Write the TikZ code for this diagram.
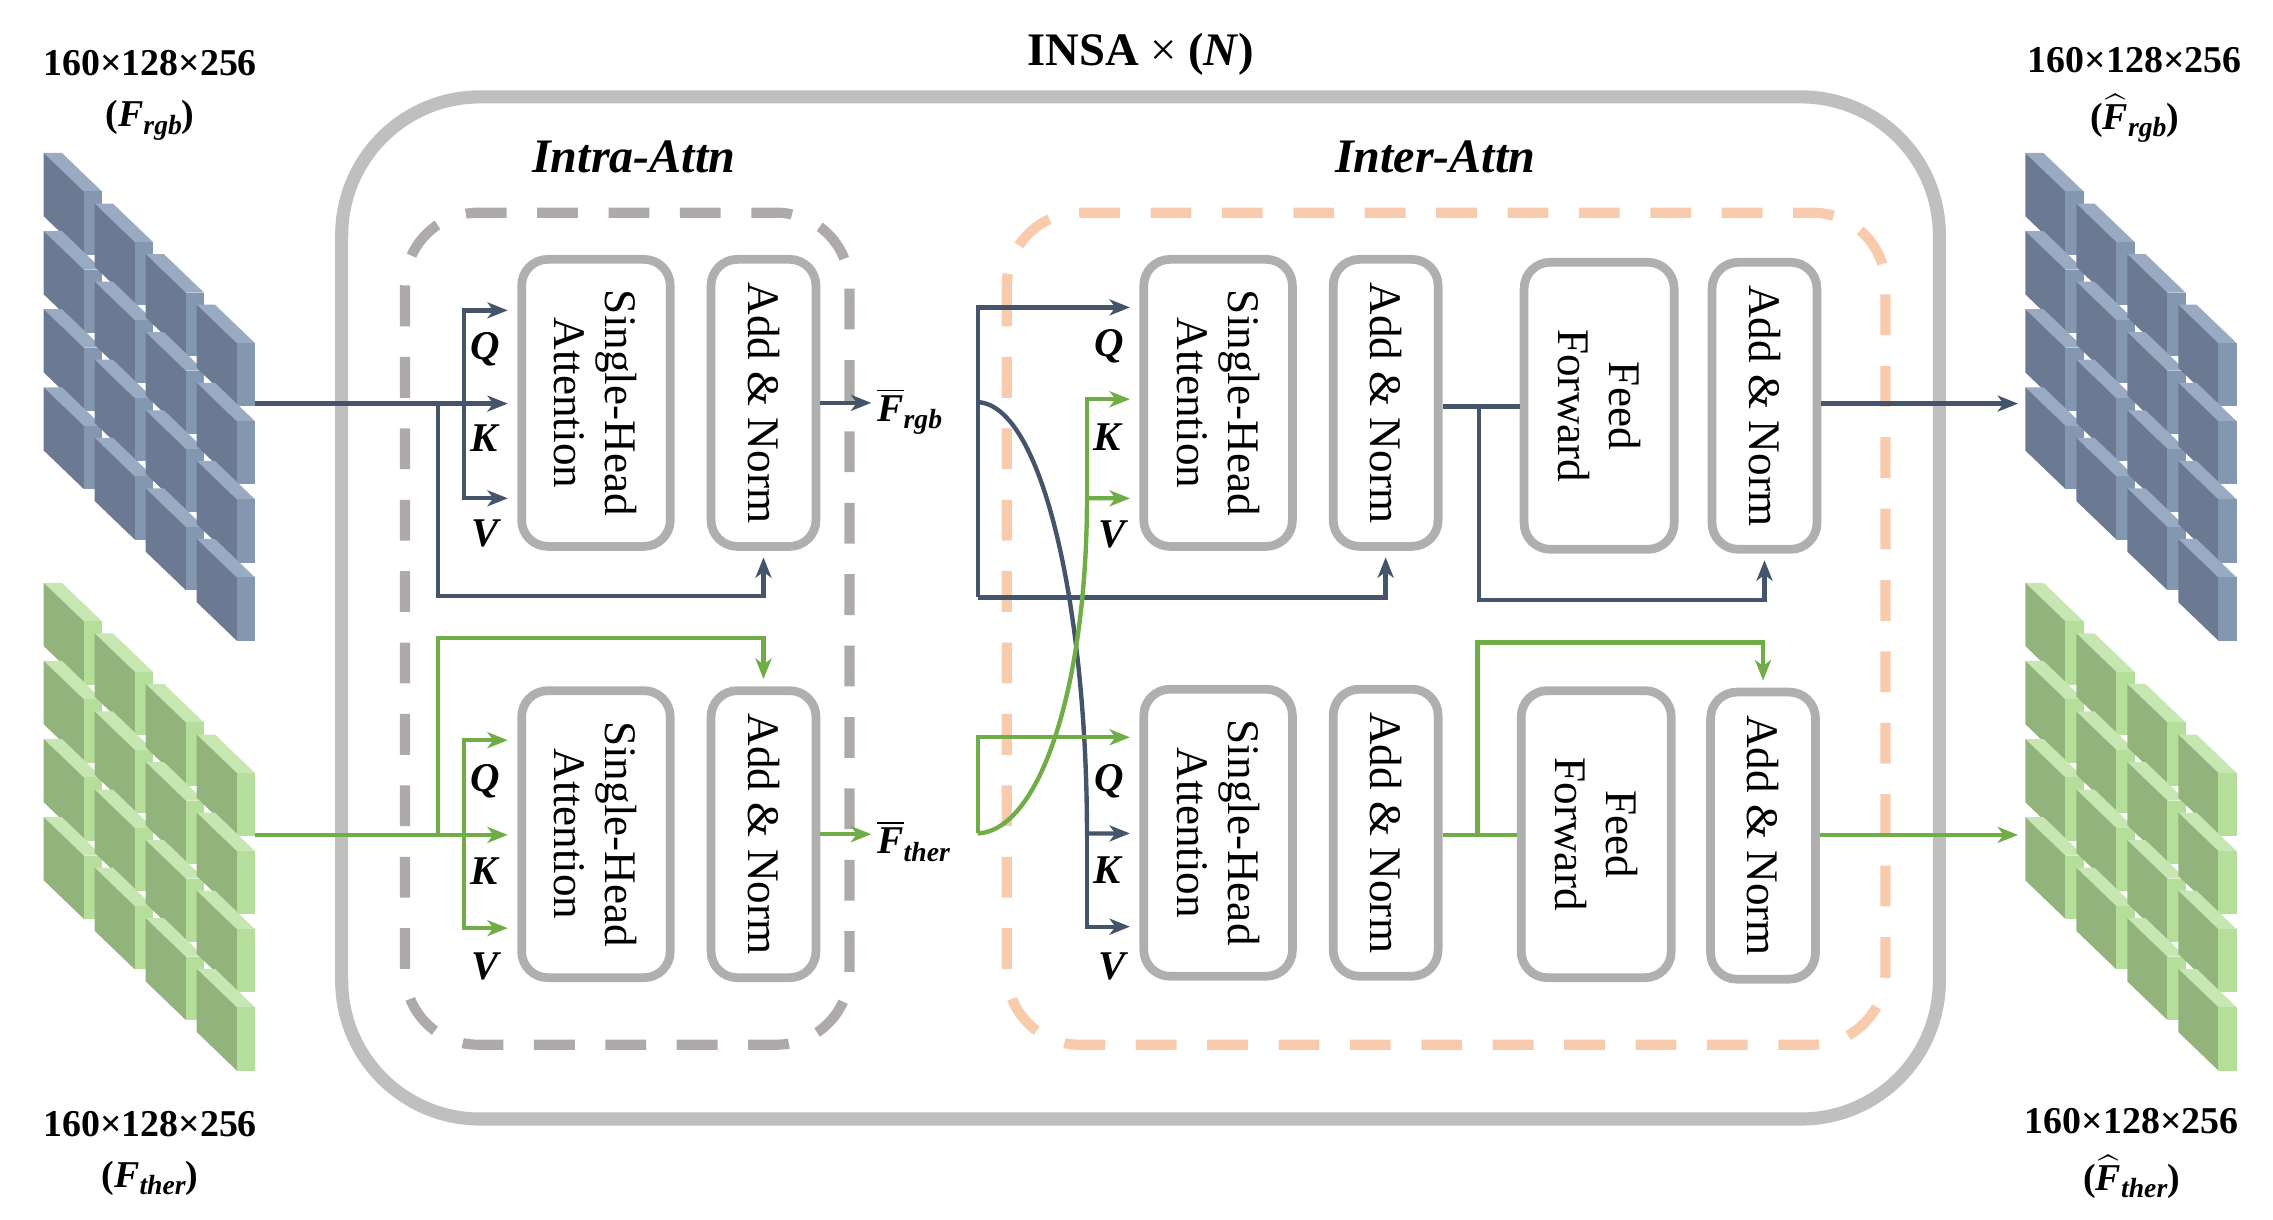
\documentclass[tikz,border=0pt]{standalone}
\usepackage{amsmath}
\usepackage{fontspec}
\setmainfont{Liberation Serif}
\usepackage{bm}
\usetikzlibrary{arrows.meta}
\definecolor{cblue}{HTML}{44546A}
\definecolor{cgreen}{HTML}{70AD47}
\definecolor{boxgray}{HTML}{AFAFAF}
\definecolor{outergray}{HTML}{BFBFBF}
\definecolor{intragray}{HTML}{AEAAAA}
\definecolor{interpeach}{HTML}{F8CBAD}
\definecolor{rgbfront}{HTML}{6B7A92}
\definecolor{rgbside}{HTML}{8497B0}
\definecolor{rgbtop}{HTML}{99AAC3}
\definecolor{thfront}{HTML}{93B37C}
\definecolor{thside}{HTML}{B4DE99}
\definecolor{thtop}{HTML}{C6E7B1}
\newcommand{\mycube}[5]{%
 \fill[#5] (#1,#2) -- ++(12.5,0) -- ++(27.5,26.4) -- ++(-12.5,0) -- cycle;
 \fill[#3] (#1,#2) -- ++(27.5,26.4) -- ++(0,43.4) -- ++(-27.5,-26.4) -- cycle;
 \fill[#4] (#1,#2) ++(27.5,26.4) -- ++(12.5,0) -- ++(0,43.4) -- ++(-12.5,0) -- cycle;
}
\newcommand{\mygrid}[5]{%
 \foreach \cc in {0,...,3}{\foreach \rr in {0,...,3}{%
   \pgfmathsetmacro{\cx}{#1+35*\cc}\pgfmathsetmacro{\cy}{#2+34.7*\cc+53.6*\rr}%
   \mycube{\cx}{\cy}{#3}{#4}{#5}}}}
\newcommand{\bF}{\textbf{\textit{F}}}
\newcommand{\bsub}[1]{\raisebox{-5pt}{\fontsize{19}{20}\selectfont\textbf{\textit{#1}}}}
\begin{document}
\begin{tikzpicture}[x=1pt,y=-1pt,
  blockbox/.style={draw=boxgray, line width=6pt, rounded corners=18pt, fill=white, minimum height=197pt, inner sep=0pt},
  blocktext/.style={rotate=-90, align=center, font=\fontsize{31}{35}\selectfont, inner sep=0pt},
  conn/.style={line width=3pt},
  myarrow/.style={-{Stealth[length=14pt,width=11pt,inset=4pt]}},
  qkv/.style={font=\fontsize{28}{30}\selectfont\bfseries\itshape, inner sep=0pt},
  dimtext/.style={font=\fontsize{26}{30}\selectfont\bfseries, inner sep=0pt, anchor=base},
  fbar/.style={font=\fontsize{27}{30}\selectfont, inner sep=0pt, anchor=base west},
]
\useasboundingbox (0,0) rectangle (1560,837);

% outer and dashed frames
\draw[outergray, line width=9pt, rounded corners=95pt] (234.5,66.5) rectangle (1331,768);
\draw[intragray, line width=7pt, dash pattern=on 28pt off 21pt, rounded corners=50pt] (278,146) rectangle (583,717);
\draw[interpeach, line width=7pt, dash pattern=on 28pt off 21pt, rounded corners=50pt] (691,146) rectangle (1294,717);

% titles
\node[font=\fontsize{32}{36}\selectfont\bfseries] (title) at (783,37) {INSA {\mdseries ×} (\textit{N})};
\node[font=\fontsize{33}{38}\selectfont\bfseries\itshape] (intra) at (435,108) {Intra-Attn};
\node[font=\fontsize{33}{38}\selectfont\bfseries\itshape] (inter) at (985,108) {Inter-Attn};

% feature cubes
\mygrid{30}{105}{rgbfront}{rgbside}{rgbtop}
\mygrid{30}{400}{thfront}{thside}{thtop}
\mygrid{1390}{105}{rgbfront}{rgbside}{rgbtop}
\mygrid{1390}{400}{thfront}{thside}{thtop}

\node[dimtext] (d1) at (103,52) {160×128×256};
\node[dimtext] (d2) at (103,87) {(\bF\bsub{rgb})};
\node[dimtext] (d3) at (103,780) {160×128×256};
\node[dimtext] (d4) at (103,815) {(\bF\bsub{ther})};
\node[dimtext] (d5) at (1465,50) {160×128×256};
\node[dimtext] (d6) at (1465,89) {($\widehat{\hbox{\bF}}$\bsub{rgb})};
\node[dimtext] (d7) at (1463,778) {160×128×256};
\node[dimtext] (d8) at (1463,817) {($\widehat{\hbox{\bF}}$\bsub{ther})};

% blocks
\node[blockbox, minimum width=102pt] (sa1) at (409,276.5) {};
\node[blocktext] at (sa1) {Single-Head\\Attention};
\node[blockbox, minimum width=72pt] (an1) at (524,276.5) {};
\node[blocktext] at (an1) {Add \& Norm};
\node[blockbox, minimum width=102pt] (sa2) at (409,572.5) {};
\node[blocktext] at (sa2) {Single-Head\\Attention};
\node[blockbox, minimum width=72pt] (an2) at (524,572.5) {};
\node[blocktext] at (an2) {Add \& Norm};

\node[blockbox, minimum width=102pt] (sa3) at (836,276.5) {};
\node[blocktext] at (sa3) {Single-Head\\Attention};
\node[blockbox, minimum width=72pt] (an3) at (951,276.5) {};
\node[blocktext] at (an3) {Add \& Norm};
\node[blockbox, minimum width=103pt] (ff3) at (1097.5,278.5) {};
\node[blocktext] at (ff3) {Feed\\Forward};
\node[blockbox, minimum width=72pt] (bn3) at (1211,278.5) {};
\node[blocktext] at (bn3) {Add \& Norm};

\node[blockbox, minimum width=102pt] (sa4) at (836,571.5) {};
\node[blocktext] at (sa4) {Single-Head\\Attention};
\node[blockbox, minimum width=72pt] (an4) at (951,571.5) {};
\node[blocktext] at (an4) {Add \& Norm};
\node[blockbox, minimum width=103pt] (ff4) at (1095.5,572.5) {};
\node[blocktext] at (ff4) {Feed\\Forward};
\node[blockbox, minimum width=72pt] (bn4) at (1210,573.5) {};
\node[blocktext] at (bn4) {Add \& Norm};

% Q K V labels
\node[qkv] (lq1) at (333,240) {Q};
\node[qkv] (lk1) at (332,301) {K};
\node[qkv] (lv1) at (333,366) {V};
\node[qkv] (lq2) at (333,536) {Q};
\node[qkv] (lk2) at (332,598) {K};
\node[qkv] (lv2) at (333,663) {V};
\node[qkv] (lq3) at (761,238) {Q};
\node[qkv] (lk3) at (760,300) {K};
\node[qkv] (lv3) at (763,367) {V};
\node[qkv] (lq4) at (761,536) {Q};
\node[qkv] (lk4) at (760,597) {K};
\node[qkv] (lv4) at (763,663) {V};

% F bar labels
\node[fbar] (frgb) at (602,289) {$\overline{\hbox{\bF}}$\bsub{rgb}};
\node[fbar] (fther) at (602,586) {$\overline{\hbox{\bF}}$\bsub{ther}};

% coordinates
\coordinate (rgbout) at (175,277);
\coordinate (thout) at (175,573);
\coordinate (f1) at (318.5,277); \coordinate (q1) at (318.5,213);
\coordinate (v1) at (318.5,342); \coordinate (r1) at (300.5,277);
\coordinate (f2) at (318.5,573); \coordinate (q2) at (318.5,508);
\coordinate (v2) at (318.5,637); \coordinate (r2) at (300.5,573);
\coordinate (bt) at (671,211); \coordinate (bb) at (671,410); \coordinate (bc) at (671,276);
\coordinate (bk) at (746,572); \coordinate (bv) at (746,636);
\coordinate (gq) at (671,506); \coordinate (gb) at (671,572);
\coordinate (gk) at (746,274); \coordinate (gv) at (746,342);
\coordinate (j3) at (1015,279); \coordinate (j4) at (1014,573);
\coordinate (rgbin) at (1385,277); \coordinate (thin) at (1385,573);

% intra rgb
\draw[conn,cblue,myarrow,shorten >=6.5pt] (rgbout) -- (rgbout -| sa1.west);
\draw[conn,cblue,myarrow,shorten >=6.5pt] (f1) -- (q1) -- (q1 -| sa1.west);
\draw[conn,cblue,myarrow,shorten >=6.5pt] (f1) -- (v1) -- (v1 -| sa1.west);
\draw[conn,cblue,myarrow,shorten >=4.5pt] (r1) -- ++(0,132) -| (an1.south);
\draw[conn,cblue,myarrow,shorten >=4pt] (an1.east) -- (an1.east -| frgb.west);

% intra thermal
\draw[conn,cgreen,myarrow,shorten >=6.5pt] (thout) -- (thout -| sa2.west);
\draw[conn,cgreen,myarrow,shorten >=6.5pt] (f2) -- (q2) -- (q2 -| sa2.west);
\draw[conn,cgreen,myarrow,shorten >=6.5pt] (f2) -- (v2) -- (v2 -| sa2.west);
\draw[conn,cgreen,myarrow,shorten >=5pt] (r2) -- ++(0,-135) -| (an2.north);
\draw[conn,cgreen,myarrow,shorten >=4pt] (an2.east) -- (an2.east -| fther.west);

% inter rgb
\draw[conn,cblue,myarrow,shorten >=6.5pt] (bb) -- (bt) -- (bt -| sa3.west);
\draw[conn,cblue,myarrow,shorten >=4.5pt] (bb) -| (an3.south);
\draw[conn,cblue,myarrow,shorten >=6.5pt] (bc) .. controls (716,278) and (746,420) .. (bk) -- (bk -| sa4.west);
\draw[conn,cblue,myarrow,shorten >=6.5pt] (bk) -- (bv) -- (bv -| sa4.west);

% inter thermal
\draw[conn,cgreen,myarrow,shorten >=6.5pt] (gb) -- (gq) -- (gq -| sa4.west);
\draw[conn,cgreen,myarrow,shorten >=6.5pt] (gb) .. controls (714,570) and (746,470) .. (gv) -- (gv -| sa3.west);
\draw[conn,cgreen,myarrow,shorten >=6.5pt] (gv) -- (gk) -- (gk -| sa3.west);

% feed forward parts
\draw[conn,cblue] (j3 -| an3.east) -- (j3 -| ff3.west);
\draw[conn,cblue,myarrow,shorten >=4.5pt] (j3) -- ++(0,133) -| (bn3.south);
\draw[conn,cblue,myarrow] (bn3.east |- rgbin) -- (rgbin);
\draw[conn,cgreen] (j4 -| an4.east) -- (j4 -| ff4.west);
\draw[conn,cgreen,myarrow,shorten >=5pt] (j4) -- ++(0,-132) -| (bn4.north);
\draw[conn,cgreen,myarrow] (bn4.east |- thin) -- (thin);
\end{tikzpicture}
\end{document}
